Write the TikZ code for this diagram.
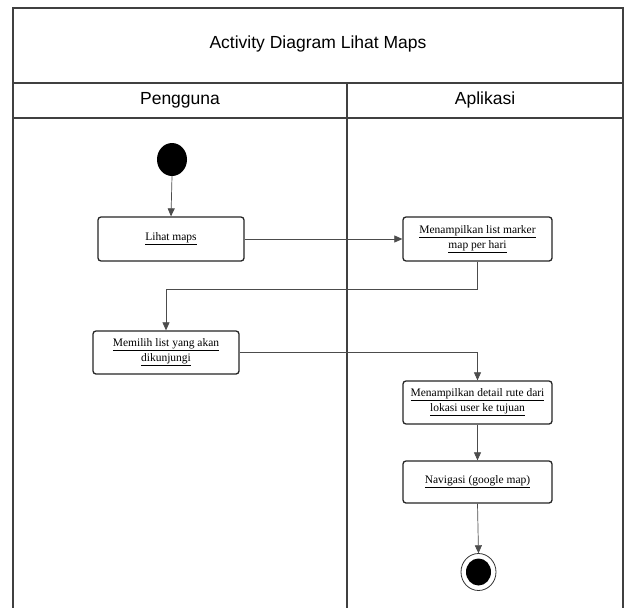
\documentclass[tikz,border=0pt]{standalone}
\usepackage{fontspec}
\setmainfont{Liberation Serif}
\newfontfamily\headfont{Liberation Sans}
\usetikzlibrary{arrows.meta,calc}
\begin{document}
\begin{tikzpicture}[x=1pt,y=-1pt,
  frame/.style={draw=black!75,line width=1.1pt},
  act/.style={draw=black!85,line width=1.3pt,rounded corners=3pt,fill=white,
    minimum width=#1,align=center,inner sep=0pt,
    font=\fontsize{11.5}{15}\selectfont},
  act/.default=146pt,
  flow/.style={draw=black!70,line width=0.7pt,-{Triangle[width=7pt,length=8pt]}},
  head/.style={font=\headfont\fontsize{17.5}{20}\selectfont}]
\useasboundingbox (0,0) rectangle (635,608);
\fill[white] (0,0) rectangle (635,608);
% frame
\coordinate (tl) at (13,8);
\coordinate (tr) at (623,8);
\coordinate (bl) at (13,608);
\coordinate (br) at (623,608);
\draw[frame] (bl) -- (tl) -- (tr) -- (br);
\draw[frame] (13,83) -- (623,83);
\draw[frame] (13,118) -- (623,118);
\draw[frame] (347,83) -- (347,608);
\node[head] (title) at (318,44) {Activity Diagram Lihat Maps};
\node[head] (lane1) at (180,100) {Pengguna};
\node[head] (lane2) at (485,100) {Aplikasi};
% nodes
\fill[black] (172,159.5) ellipse [x radius=15, y radius=16.5];
\node[minimum width=30pt,minimum height=33pt,inner sep=0pt] (start) at (172,159.5) {};
\node[act=146pt,minimum height=44pt] (lihat) at (171,239) {\underline{Lihat maps}};
\node[act=149pt,minimum height=44pt] (tampil) at (477.5,239) {\underline{Menampilkan list marker}\\\underline{map per hari}};
\node[act=146pt,minimum height=43pt] (pilih) at (166,352.5) {\underline{Memilih list yang akan}\\\underline{dikunjungi}};
\node[act=149pt,minimum height=43pt] (detail) at (477.5,402.5) {\underline{Menampilkan detail rute dari}\\\underline{lokasi user ke tujuan}};
\node[act=149pt,minimum height=42pt] (navi) at (477.5,482) {\underline{Navigasi (google map)}};
% end node
\draw[black!80,line width=0.8pt,fill=white] (478.5,572) ellipse [x radius=17.5, y radius=18.5];
\fill[black] (478.5,572) ellipse [x radius=12.5, y radius=13.5];
\node[minimum width=35pt,minimum height=37pt,inner sep=0pt] (end) at (478.5,572) {};
% connectors
\draw[flow] (start.south) -- (lihat.north);
\draw[flow] (lihat.east) -- (tampil.west);
\draw[flow] (tampil.south) |- (166,289) -- (pilih.north);
\draw[flow] (pilih.east) -| (detail.north);
\draw[flow] (detail.south) -- (navi.north);
\draw[flow] (navi.south) -- (end.north);
\end{tikzpicture}
\end{document}
